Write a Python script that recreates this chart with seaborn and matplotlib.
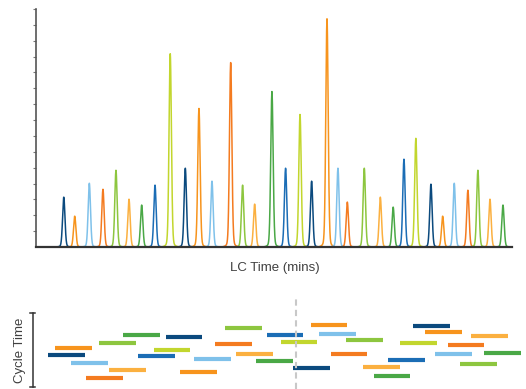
import numpy as np
import pandas as pd
import matplotlib
matplotlib.use("Agg")
import matplotlib.pyplot as plt
import seaborn as sns

# Peak retention times (min) and heights (arbitrary intensity)
peak_times = [1.75, 2.44, 3.36, 4.22, 5.04, 5.86, 6.66, 7.50, 8.46, 9.41,
              10.27, 11.09, 12.27, 13.02, 13.78, 14.87, 15.73, 16.64, 17.37, 18.34,
              19.03, 19.62, 20.69, 21.70, 22.51, 23.19, 23.94, 24.89, 25.63, 26.36,
              27.22, 27.85, 28.61, 29.43]
peak_heights = [3.15, 1.95, 4.03, 3.65, 4.85, 3.02, 2.65, 3.91, 12.22, 4.98,
                8.76, 4.16, 11.66, 3.91, 2.71, 9.83, 4.98, 8.38, 4.16, 14.43,
                4.98, 2.84, 4.98, 3.15, 2.52, 5.55, 6.87, 3.97, 1.95, 4.03,
                3.59, 4.85, 3.02, 2.65]

# Acquisition windows: start time (min) and level on the cycle-time axis
window_starts = [0.78, 1.22, 2.22, 3.15, 3.97, 4.62, 5.48, 6.45, 7.42, 8.17,
                 9.07, 9.96, 11.28, 11.93, 12.62, 13.88, 14.54, 15.42, 16.21, 17.31,
                 17.85, 18.57, 19.53, 20.60, 21.28, 22.20, 22.96, 23.77, 24.53, 25.16,
                 25.94, 26.74, 27.43, 28.25]
window_levels = [4.27, 5.25, 3.27, 1.25, 5.92, 2.33, 7.04, 4.13, 5.02, 6.69,
                 1.98, 3.73, 5.83, 7.90, 4.48, 3.50, 7.00, 6.06, 2.52, 8.38,
                 7.17, 4.40, 6.33, 2.73, 1.52, 3.59, 5.92, 8.25, 7.36, 4.44,
                 5.69, 3.06, 6.82, 4.54]
window_width = 2.31
current_time = 16.36

colors = ["#0b4a7e", "#f7941d", "#7fc1ea", "#f47b20", "#8dc63f",
          "#fbb040", "#4aa846", "#1b6db5", "#c2d62e"]

# build peak traces
rows = []
for i, (t, h) in enumerate(zip(peak_times, peak_heights)):
    x = np.linspace(t - 0.6, t + 0.6, 241)
    g = np.exp(-0.5 * ((x - t) / 0.075) ** 2)
    lo = 1.0 / (1.0 + ((x - t) / 0.09) ** 2)
    y = h * (0.85 * g + 0.15 * lo)
    y = y - y.min()
    for xi, yi in zip(x, y):
        rows.append((xi, yi, i))
df = pd.DataFrame(rows, columns=["time", "intensity", "peak"])
palette = {i: colors[i % len(colors)] for i in range(len(peak_times))}

fig = plt.figure(figsize=(5.26, 3.89), dpi=100)

ax = fig.add_axes([36 / 526, 142 / 389, 476 / 526, 238 / 389])
sns.lineplot(data=df, x="time", y="intensity", hue="peak", palette=palette,
             estimator=None, sort=False, linewidth=1.1, legend=False, ax=ax)
ax.set_xlim(0, 30)
ax.set_ylim(0, 15)
ax.set_yticks(np.arange(1, 16))
ax.set_yticklabels([])
ax.set_xticks([])
ax.tick_params(axis="y", direction="out", length=2.5, width=0.8, colors="#777777")
for s in ["top", "right"]:
    ax.spines[s].set_visible(False)
ax.spines["left"].set_color("#555555")
ax.spines["left"].set_linewidth(1.2)
ax.spines["bottom"].set_color("#333333")
ax.spines["bottom"].set_linewidth(1.6)
ax.set_xlabel("")
ax.set_ylabel("")
ax.patch.set_alpha(0)
fig.text(275 / 526, 1 - 268 / 389, "LC Time (mins)", ha="center", va="center",
         fontsize=9.5, color="#404040", family="Liberation Sans")

# cycle time panel
ax2 = fig.add_axes([0, 0, 1, 91 / 389])
ax2.set_xlim(-36 / 15.87, 490 / 15.87)
ax2.set_ylim(-2 / 7.43, 89 / 7.43)
ax2.axis("off")
for i, (s, lv) in enumerate(zip(window_starts, window_levels)):
    ax2.hlines(lv, s, s + window_width, color=colors[i % len(colors)],
               linewidth=3.0, capstyle="butt")
ax2.axvline(current_time, color="#c8c8c8", linewidth=1.5, linestyle=(0, (3, 2)))
bx = -0.21
ax2.plot([bx, bx], [0, 10], color="#333333", linewidth=1.1)
ax2.plot([bx - 0.17, bx + 0.17], [0, 0], color="#333333", linewidth=1.1)
ax2.plot([bx - 0.17, bx + 0.17], [10, 10], color="#333333", linewidth=1.1)
ax2.text(-1.01, 5, "Cycle Time", rotation=90, ha="center", va="center",
         fontsize=9.5, color="#404040", family="Liberation Sans")

fig.savefig("out.png", dpi=100)
